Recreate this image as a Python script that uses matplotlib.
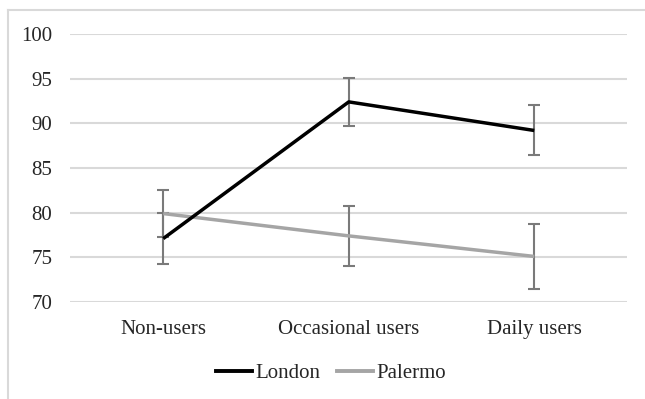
import matplotlib.pyplot as plt
from matplotlib.lines import Line2D

# Data
categories = ["Non-users", "Occasional users", "Daily users"]
london = [77.1, 92.4, 89.2]
london_err = [2.9, 2.7, 2.8]
palermo = [79.9, 77.4, 75.1]
palermo_err = [2.6, 3.4, 3.6]
yticks = [70, 75, 80, 85, 90, 95, 100]

plt.rcParams['font.family'] = ['Liberation Serif', 'DejaVu Serif']
FS = 15

fig = plt.figure(figsize=(6.45, 3.99), dpi=100)
ax = fig.add_axes([0.1093, 0.2431, 0.8628, 0.6717])

x = list(range(len(categories)))

# Error bars first (gray), then lines on top
ax.errorbar(x, london, yerr=london_err, fmt='none', ecolor='#7a7a7a',
            elinewidth=1.5, capsize=4.5, capthick=1.5, zorder=2)
ax.errorbar(x, palermo, yerr=palermo_err, fmt='none', ecolor='#7a7a7a',
            elinewidth=1.5, capsize=4.5, capthick=1.5, zorder=2)
ax.plot(x, palermo, color='#a5a5a5', lw=2.5, label='Palermo', zorder=3,
        solid_capstyle='butt')
ax.plot(x, london, color='#000000', lw=2.5, label='London', zorder=4,
        solid_capstyle='butt')

ax.set_xlim(-0.5, 2.5)
ax.set_ylim(70, 100)
ax.set_yticks(yticks)
ax.set_xticks(x)
ax.set_xticklabels(categories)
ax.yaxis.grid(True, color='#d9d9d9', lw=1.5)
ax.set_axisbelow(True)
for s in ax.spines.values():
    s.set_visible(False)
ax.tick_params(axis='both', length=0, labelsize=FS, colors='#262626')
ax.tick_params(axis='y', pad=13)
ax.tick_params(axis='x', pad=13)

# Legend below the plot
handles = [Line2D([], [], color='#000000', lw=2.8),
           Line2D([], [], color='#a5a5a5', lw=2.8)]
fig.legend(handles, ['London', 'Palermo'], loc='center',
           bbox_to_anchor=(331 / 645, 1 - 373 / 399), ncol=2, frameon=False,
           fontsize=FS, handlelength=1.75, handletextpad=0.15,
           columnspacing=0.8, labelcolor='#262626')

# Light chart frame (top and left edges visible)
fig.add_artist(Line2D([8 / 645, 1.0], [1 - 10 / 399, 1 - 10 / 399],
                      color='#d9d9d9', lw=1.5, transform=fig.transFigure))
fig.add_artist(Line2D([8 / 645, 8 / 645], [0.0, 1 - 10 / 399],
                      color='#d9d9d9', lw=1.5, transform=fig.transFigure))

fig.savefig('out.png', dpi=100)
